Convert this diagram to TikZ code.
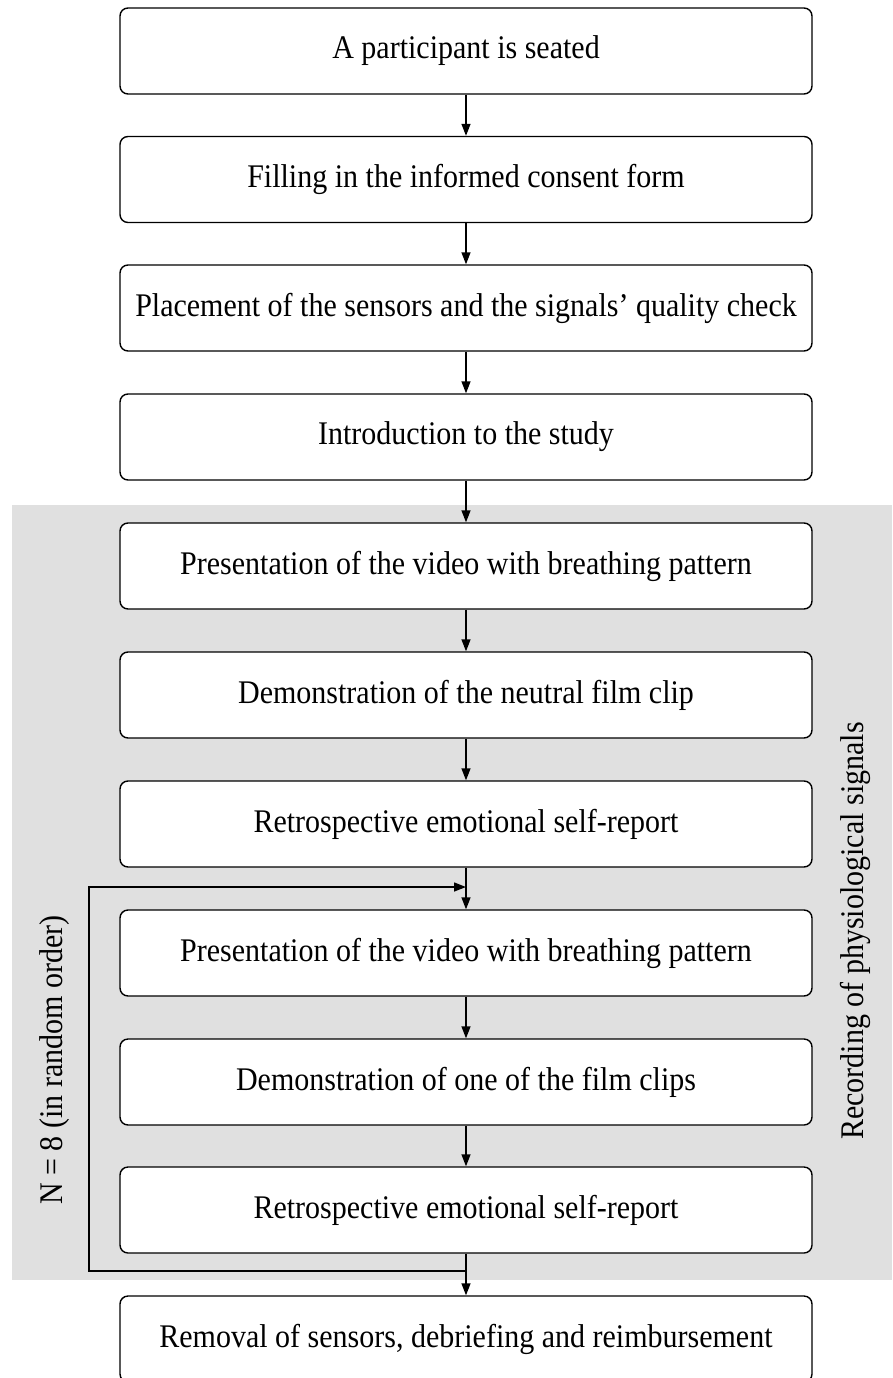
\documentclass[tikz,border=0pt]{standalone}
\usepackage{fontspec}
\setmainfont{Liberation Serif}
\usetikzlibrary{arrows.meta}
\definecolor{bg}{HTML}{E0E0E0}
\newcommand{\tallt}[1]{\scalebox{1}[1.1]{#1}}
\begin{document}
\begin{tikzpicture}[x=1pt,y=-1pt,
 stepbox/.style={draw, line width=1.4pt, rounded corners=8pt, minimum width=692pt, minimum height=86pt, fill=white, inner sep=0pt, font=\fontsize{30}{36}\selectfont},
 arr/.style={line width=1.4pt, -{Triangle[length=12pt,width=9pt]}},
 lbl/.style={font=\fontsize{30}{36}\selectfont, rotate=90}]
\useasboundingbox (0,0) rectangle (892,1378);
\fill[bg] (12,505) rectangle (892,1280);
\node[stepbox] (b1) at (466,51) {\tallt{A participant is seated}};
\node[stepbox] (b2) at (466,179.5) {\tallt{Filling in the informed consent form}};
\node[stepbox] (b3) at (466,308) {\tallt{Placement of the sensors and the signals' quality check}};
\node[stepbox] (b4) at (466,437) {\tallt{Introduction to the study}};
\node[stepbox] (b5) at (466,566) {\tallt{Presentation of the video with breathing pattern}};
\node[stepbox] (b6) at (466,695) {\tallt{Demonstration of the neutral film clip}};
\node[stepbox] (b7) at (466,824) {\tallt{Retrospective emotional self-report}};
\node[stepbox] (b8) at (466,953) {\tallt{Presentation of the video with breathing pattern}};
\node[stepbox] (b9) at (466,1082) {\tallt{Demonstration of one of the film clips}};
\node[stepbox] (b10) at (466,1210) {\tallt{Retrospective emotional self-report}};
\node[stepbox] (b11) at (466,1339) {\tallt{Removal of sensors, debriefing and reimbursement}};
\foreach \a/\b in {b1/b2,b2/b3,b3/b4,b4/b5,b5/b6,b6/b7,b7/b8,b8/b9,b9/b10,b10/b11}
  \draw[arr] (\a.south) -- (\b.north);
\coordinate (j) at (466,1271);
\coordinate (l1) at (89,1271);
\coordinate (l2) at (89,887);
\coordinate (k) at (466,887);
\draw[arr] (j) -- (l1) -- (l2) -- (k);
\node[lbl] (n8) at (55,1060) {\tallt{N = 8 (in random order)}};
\node[lbl] (rec) at (855,931) {\tallt{Recording of physiological signals}};
\end{tikzpicture}
\end{document}
